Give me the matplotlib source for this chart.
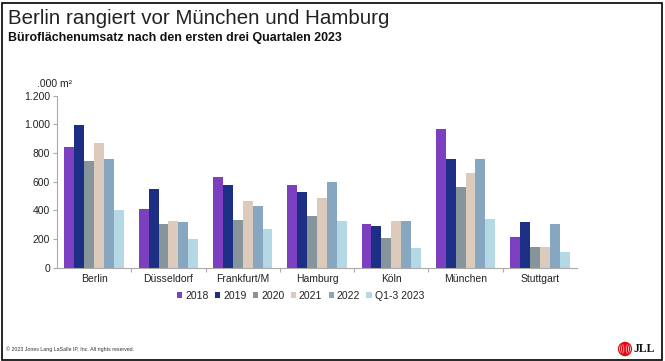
import matplotlib
matplotlib.use("Agg")
import matplotlib.pyplot as plt
import numpy as np
from matplotlib.patches import Rectangle, Ellipse

plt.rcParams['font.family'] = ['Liberation Sans', 'DejaVu Sans']

categories = ["Berlin", "Düsseldorf", "Frankfurt/M", "Hamburg", "Köln", "München", "Stuttgart"]
series_names = ["2018", "2019", "2020", "2021", "2022", "Q1-3 2023"]
v2018 = [840, 412, 629, 573, 303, 968, 215]
v2019 = [993, 547, 573, 527, 287, 755, 315]
v2020 = [742, 303, 331, 362, 206, 564, 141]
v2021 = [868, 326, 464, 483, 324, 659, 141]
v2022 = [760, 317, 427, 594, 324, 755, 303]
vq123 = [402, 198, 269, 324, 136, 336, 106]
series_values = [v2018, v2019, v2020, v2021, v2022, vq123]
colors = ["#7b3fbf", "#1c2f85", "#86949c", "#dccbbc", "#87a7c0", "#b5d9e4"]
yticks = [0, 200, 400, 600, 800, 1000, 1200]
ytick_labels = ["0", "200", "400", "600", "800", "1.000", "1.200"]

fig = plt.figure(figsize=(6.65, 3.61), dpi=100)
ax = fig.add_axes([57/665, 1-267.5/361, 520/665, (267.5-95.7)/361])

x = np.arange(len(categories))
n = len(series_values)
bw = 0.8 / n
handles = []
for i, (vals, c, name) in enumerate(zip(series_values, colors, series_names)):
    b = ax.bar(x - 0.4 + bw*(i+0.5), vals, width=bw, color=c, label=name, linewidth=0)
    handles.append(b)

ax.set_xlim(-0.5, len(categories)-0.5)
ax.set_ylim(0, 1200)
ax.set_yticks(yticks)
ax.set_yticklabels(ytick_labels, fontsize=7.5, color="#222222")
ax.set_xticks(x)
ax.set_xticklabels(categories, fontsize=7.5, color="#222222")
ax.tick_params(axis='x', length=0, pad=5)
ax.set_xticks(np.arange(0.5, len(categories)-0.5, 1), minor=True)
ax.tick_params(axis='x', which='minor', length=3, color="#aaaaaa", width=0.8)
ax.tick_params(axis='y', length=3, color="#aaaaaa", width=0.8, pad=2)
for s in ['top', 'right']:
    ax.spines[s].set_visible(False)
for s in ['left', 'bottom']:
    ax.spines[s].set_color("#aaaaaa")
    ax.spines[s].set_linewidth(0.8)

fig.text(37/665, 1-84/361, ".000 m²", fontsize=7.5, color="#222222", va='center', ha='left')

fig.text(8/665, 1-18/361, "Berlin rangiert vor München und Hamburg", fontsize=14.8, color="#222222", va='center', ha='left')
fig.text(8/665, 1-38/361, "Büroflächenumsatz nach den ersten drei Quartalen 2023", fontsize=8.9, fontweight='bold', color="#111111", va='center', ha='left')

leg = fig.legend(handles=handles, labels=series_names, loc='center', bbox_to_anchor=(300.5/665, 1-296/361),
                 ncol=6, frameon=False, fontsize=7.5, handlelength=0.5, handleheight=0.5,
                 handletextpad=0.3, columnspacing=0.6)
for t in leg.get_texts():
    t.set_color("#222222")

fig.text(6/665, 1-349/361, "© 2023 Jones Lang LaSalle IP, Inc. All rights reserved.", fontsize=3.8, color="#333333", va='center', ha='left')

# JLL logo
for w in [13, 9, 5, 1.5]:
    e = Ellipse((625/665, 1-349/361), w/665, 13/361, transform=fig.transFigure,
                fill=False, edgecolor="#e30613", linewidth=0.9)
    fig.patches.append(e)
fig.text(634/665, 1-349/361, "JLL", fontsize=8.5, fontweight='bold', family=['Liberation Serif', 'DejaVu Serif'],
         color="#111111", va='center', ha='left')

# frame
fig.patches.append(Rectangle((1.5/665, 1.5/361), 660/665, 357/361, transform=fig.transFigure,
                             fill=False, edgecolor="black", linewidth=1.2))

fig.savefig("out.png", dpi=100)
